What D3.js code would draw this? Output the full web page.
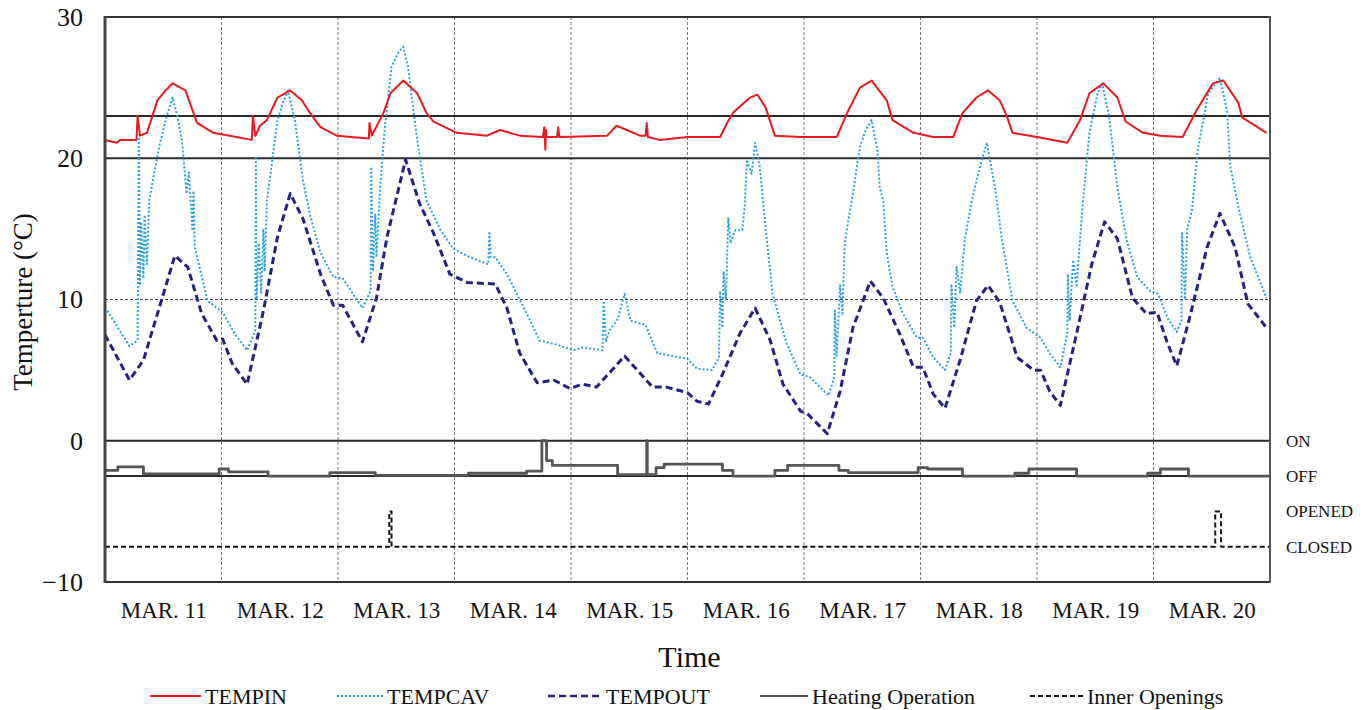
<!DOCTYPE html>
<html><head><meta charset="utf-8">
<script src="https://cdn.jsdelivr.net/npm/d3@7"></script>
<style>
html,body{margin:0;padding:0;background:#fff;}
svg text{font-family:"Liberation Serif","DejaVu Serif",serif;fill:#111;}
</style></head>
<body><svg id="c" width="1372" height="710"></svg>
<script>
// ---- DATA (time in days since MAR. 11 00:00, value in °C) ----
const dayLabels = ["MAR. 11","MAR. 12","MAR. 13","MAR. 14","MAR. 15","MAR. 16","MAR. 17","MAR. 18","MAR. 19","MAR. 20"];
const yTicks = [-10,0,10,20,30];
const stateLabels = [["ON",0],["OFF",-2.5],["OPENED",-5],["CLOSED",-7.5]];
const refLines = [23,20,0,-2.5];

const tempIn = [[0,21.3],[0.10,21.1],[0.13,21.3],[0.27,21.3],[0.28,23.0],[0.30,21.6],[0.36,21.8],[0.45,24.1],[0.52,24.8],[0.58,25.3],[0.69,24.8],[0.76,23.2],[0.79,22.5],[0.93,21.8],[1.07,21.6],[1.26,21.3],[1.27,23.0],[1.29,21.6],[1.33,22.3],[1.39,22.7],[1.48,24.3],[1.59,24.8],[1.69,24.1],[1.76,23.2],[1.85,22.2],[1.99,21.6],[2.265,21.4],[2.27,22.5],[2.29,21.6],[2.39,23.2],[2.45,24.6],[2.56,25.5],[2.68,24.6],[2.76,23.2],[2.82,22.6],[3.02,21.8],[3.28,21.6],[3.39,22.0],[3.56,21.6],[3.76,21.5],[3.77,22.2],[3.78,20.6],[3.785,22.0],[3.79,21.5],[3.88,21.5],[3.89,22.2],[3.90,21.5],[4.31,21.6],[4.39,22.3],[4.48,22.0],[4.59,21.6],[4.64,21.6],[4.65,22.5],[4.66,21.5],[4.76,21.3],[5.00,21.5],[5.28,21.5],[5.34,22.5],[5.39,23.2],[5.48,23.9],[5.54,24.3],[5.60,24.5],[5.67,23.6],[5.75,21.6],[5.97,21.5],[6.28,21.5],[6.37,23.2],[6.48,25.0],[6.58,25.5],[6.71,24.1],[6.76,22.7],[6.94,21.8],[7.11,21.5],[7.28,21.5],[7.36,23.2],[7.48,24.3],[7.58,24.8],[7.68,24.1],[7.74,23.0],[7.79,21.8],[8.00,21.5],[8.26,21.1],[8.37,22.7],[8.45,24.6],[8.57,25.3],[8.69,24.3],[8.76,22.6],[8.91,21.8],[9.06,21.6],[9.25,21.5],[9.37,23.4],[9.51,25.3],[9.60,25.5],[9.73,23.9],[9.76,22.9],[9.97,21.8]];

const tempCav = [[0.02,9.2],[0.21,6.7],[0.28,7.1],[0.29,21.5],[0.30,11.0],[0.31,15.5],[0.33,11.5],[0.34,16.0],[0.36,12.5],[0.38,17.0],[0.41,18.4],[0.47,21.0],[0.53,23.0],[0.58,24.3],[0.62,23.0],[0.66,21.3],[0.70,17.5],[0.72,19.0],[0.75,15.0],[0.76,17.7],[0.77,13.7],[0.82,12.0],[0.88,9.9],[1.01,9.1],[1.12,7.5],[1.22,6.4],[1.29,7.8],[1.295,20.0],[1.30,10.0],[1.32,14.0],[1.34,10.5],[1.36,15.0],[1.37,12.0],[1.39,17.0],[1.43,19.5],[1.48,22.7],[1.53,24.0],[1.57,24.8],[1.63,22.7],[1.70,18.4],[1.76,16.0],[1.85,13.3],[1.96,11.6],[2.04,11.5],[2.21,9.4],[2.28,10.6],[2.285,19.4],[2.30,12.0],[2.32,16.0],[2.33,13.0],[2.36,17.7],[2.40,22.0],[2.46,26.5],[2.52,27.5],[2.56,27.9],[2.60,26.5],[2.68,21.3],[2.76,17.0],[2.88,14.9],[2.99,13.6],[3.13,13.0],[3.29,12.5],[3.30,14.7],[3.31,13.0],[3.35,13.0],[3.45,11.8],[3.62,9.0],[3.73,7.1],[3.88,6.8],[4.02,6.4],[4.10,6.6],[4.27,6.4],[4.28,9.9],[4.30,7.0],[4.33,7.8],[4.40,8.6],[4.46,10.4],[4.51,8.5],[4.64,8.2],[4.74,6.2],[5.00,5.8],[5.08,5.1],[5.21,5.0],[5.27,5.9],[5.28,10.6],[5.30,8.0],[5.31,12.0],[5.33,10.0],[5.35,15.8],[5.37,14.0],[5.41,14.9],[5.47,14.9],[5.49,16.5],[5.51,19.9],[5.55,18.9],[5.58,21.1],[5.62,19.4],[5.67,15.1],[5.73,10.4],[5.85,6.9],[5.97,4.7],[6.05,4.5],[6.21,3.2],[6.26,4.5],[6.265,9.2],[6.28,6.0],[6.31,11.0],[6.33,9.0],[6.35,14.0],[6.37,15.1],[6.43,18.0],[6.48,20.8],[6.53,22.0],[6.58,22.7],[6.63,20.6],[6.65,17.9],[6.68,17.0],[6.71,13.3],[6.76,10.9],[6.85,9.0],[6.97,7.3],[7.02,7.3],[7.11,5.9],[7.21,5.0],[7.26,6.2],[7.265,11.1],[7.29,8.0],[7.31,12.3],[7.34,10.5],[7.38,14.2],[7.44,17.0],[7.51,19.4],[7.57,21.1],[7.64,17.9],[7.70,14.2],[7.79,9.9],[7.91,8.0],[8.03,7.3],[8.11,6.2],[8.20,5.2],[8.26,7.6],[8.265,11.8],[8.28,8.5],[8.31,12.8],[8.34,11.0],[8.39,16.5],[8.45,21.8],[8.52,24.6],[8.56,25.3],[8.62,22.9],[8.69,17.9],[8.77,14.2],[8.86,11.6],[8.97,10.6],[9.04,10.4],[9.12,8.7],[9.20,7.7],[9.24,8.5],[9.245,14.7],[9.27,10.0],[9.29,15.0],[9.33,16.3],[9.38,20.6],[9.47,24.6],[9.57,25.7],[9.63,23.4],[9.66,19.4],[9.73,16.5],[9.83,13.0],[9.97,10.1]];

const tempOut = [[0.0,7.5],[0.21,4.3],[0.33,5.7],[0.60,13.1],[0.71,12.3],[0.83,9.0],[0.96,7.1],[1.01,7.2],[1.09,5.5],[1.22,4.0],[1.36,9.2],[1.48,14.4],[1.59,17.5],[1.70,15.7],[1.85,11.8],[1.96,9.6],[2.04,9.6],[2.21,7.0],[2.33,10.1],[2.42,14.4],[2.58,19.9],[2.70,16.8],[2.82,14.7],[2.96,11.8],[3.11,11.2],[3.35,11.1],[3.45,9.4],[3.56,6.2],[3.71,4.1],[3.85,4.3],[3.99,3.7],[4.10,4.0],[4.22,3.8],[4.46,6.0],[4.70,3.8],[4.82,3.8],[5.00,3.4],[5.08,2.8],[5.18,2.6],[5.30,4.7],[5.45,7.6],[5.58,9.4],[5.71,7.1],[5.82,4.0],[5.97,2.1],[6.03,1.9],[6.20,0.5],[6.31,3.5],[6.42,8.0],[6.57,11.3],[6.68,10.1],[6.82,7.6],[6.94,5.2],[7.02,5.2],[7.11,3.3],[7.21,2.3],[7.34,5.7],[7.48,9.9],[7.58,11.0],[7.68,9.8],[7.83,5.9],[7.97,5.0],[8.03,5.0],[8.11,3.5],[8.20,2.5],[8.34,7.6],[8.47,12.5],[8.58,15.5],[8.69,14.3],[8.82,10.1],[8.94,9.0],[9.03,9.1],[9.12,6.9],[9.20,5.3],[9.31,8.7],[9.46,13.7],[9.57,16.1],[9.70,13.7],[9.81,9.7],[9.97,8.0]];

// Heating operation (ON = 0, OFF = -2.5), step values
const heating = [[0,-2.1],[0.11,-1.85],[0.33,-2.35],[0.98,-2.0],[1.06,-2.2],[1.40,-2.5],[1.93,-2.25],[2.32,-2.45],[3.12,-2.3],[3.62,-2.15],[3.75,0],[3.79,-1.4],[3.84,-1.75],[4.40,-2.4],[4.65,0],[4.655,-2.4],[4.73,-1.9],[4.80,-1.65],[5.30,-2.1],[5.39,-2.5],[5.75,-2.1],[5.86,-1.75],[6.30,-2.1],[6.38,-2.25],[6.98,-1.9],[7.06,-2.0],[7.36,-2.5],[7.81,-2.3],[7.93,-2.0],[8.34,-2.5],[8.95,-2.3],[9.06,-2.0],[9.30,-2.5],[10.0,-2.5]];

// Inner openings (OPENED = -5, CLOSED = -7.5), step values
const openings = [[0,-7.5],[2.44,-5],[2.46,-7.5],[9.53,-5],[9.58,-7.5],[10.0,-7.5]];

const legendItems = [
  {name:"TEMPIN", key:"in"},
  {name:"TEMPCAV", key:"cav"},
  {name:"TEMPOUT", key:"out"},
  {name:"Heating Operation", key:"heat"},
  {name:"Inner Openings", key:"open"}
];

// ---- STYLES ----
const styles = {
  in:  {stroke:"#e8191f", width:2, dash:null},
  cav: {stroke:"#2a9fe0", width:2, dash:"2,2"},
  out: {stroke:"#23237f", width:3, dash:"7,4"},
  heat:{stroke:"#555", width:2.8, dash:null},
  open:{stroke:"#111", width:2, dash:"5,3"}
};

const svg = d3.select("#c");
const L=105, R=1270, T=17, B=582;
const x = d3.scaleLinear().domain([0,10]).range([L,R]);
const y = d3.scaleLinear().domain([-10,30]).range([B,T]);

// vertical grid
svg.append("g").selectAll("line").data(d3.range(1,10)).join("line")
  .attr("x1",d=>x(d)).attr("x2",d=>x(d)).attr("y1",T).attr("y2",B)
  .attr("stroke","#777").attr("stroke-width",1).attr("stroke-dasharray","3,2");

// 10 dotted line
svg.append("line").attr("x1",L).attr("x2",R).attr("y1",y(10)).attr("y2",y(10))
  .attr("stroke","#444").attr("stroke-width",1).attr("stroke-dasharray","3,2");

// reference lines
svg.append("g").selectAll("line").data(refLines).join("line")
  .attr("x1",L).attr("x2",R).attr("y1",d=>y(d)).attr("y2",d=>y(d))
  .attr("stroke","#2a2a2a").attr("stroke-width",2);

// clip
svg.append("clipPath").attr("id","clip").append("rect")
  .attr("x",L).attr("y",T).attr("width",R-L).attr("height",B-T);

const line = d3.line().x(d=>x(d[0])).y(d=>y(d[1]));
const step = d3.line().x(d=>x(d[0])).y(d=>y(d[1])).curve(d3.curveStepAfter);
const g = svg.append("g").attr("clip-path","url(#clip)");
function draw(data, st, gen){
  g.append("path").datum(data).attr("d",gen).attr("fill","none")
   .attr("stroke",st.stroke).attr("stroke-width",st.width)
   .attr("stroke-dasharray",st.dash).attr("stroke-linejoin","round");
}
draw(heating, styles.heat, step);
draw(openings, styles.open, step);
draw(tempOut, styles.out, line);
draw(tempCav, styles.cav, line);
draw(tempIn, styles.in, line);

// frame
svg.append("line").attr("x1",L).attr("x2",R).attr("y1",T).attr("y2",T).attr("stroke","#333").attr("stroke-width",2);
svg.append("line").attr("x1",L).attr("x2",R).attr("y1",B).attr("y2",B).attr("stroke","#333").attr("stroke-width",2);
svg.append("line").attr("x1",L).attr("x2",L).attr("y1",T-1).attr("y2",B+1).attr("stroke","#444").attr("stroke-width",3);
svg.append("line").attr("x1",R).attr("x2",R).attr("y1",T-1).attr("y2",B+1).attr("stroke","#555").attr("stroke-width",2);

// y axis labels
const ya = svg.append("g").attr("transform",`translate(${L-22},0)`)
  .call(d3.axisLeft(y).tickValues(yTicks).tickSize(0).tickPadding(0));
ya.select(".domain").remove();
ya.selectAll("text").attr("font-size",26).attr("font-family","Liberation Serif").attr("fill","#111").attr("dy","0.32em");

// x axis labels
const xa = svg.append("g").attr("transform",`translate(0,${B+20})`)
  .call(d3.axisBottom(x).tickValues(d3.range(10).map(i=>i+0.5)).tickFormat((d,i)=>dayLabels[i]).tickSize(0).tickPadding(0));
xa.select(".domain").remove();
xa.selectAll("text").attr("font-size",23).attr("font-family","Liberation Serif").attr("fill","#111").attr("dy","0.71em");

// state labels on right
svg.append("g").selectAll("text").data(stateLabels).join("text")
  .attr("x",R+16).attr("y",d=>y(d[1])).attr("dy","0.35em")
  .attr("font-size",17).attr("fill","#1a1a1a").text(d=>d[0]);

// axis titles
svg.append("text").attr("x",(L+R)/2+2).attr("y",667).attr("text-anchor","middle")
  .attr("font-size",30).text("Time");
svg.append("text").attr("transform",`translate(32,302) rotate(-90)`).attr("text-anchor","middle")
  .attr("font-size",27).text("Temperture (°C)");

// legend
const legX = [150, 337, 548, 760, 1030];
const legLen = [51, 46, 54, 48, 53];
const lg = svg.append("g");
legendItems.forEach((it,i)=>{
  const st = styles[it.key];
  lg.append("line").attr("x1",legX[i]).attr("x2",legX[i]+legLen[i]).attr("y1",696).attr("y2",696)
    .attr("stroke",st.stroke).attr("stroke-width",it.key==="out"?2.5:2).attr("stroke-dasharray",st.dash);
  lg.append("text").attr("x",legX[i]+legLen[i]+4).attr("y",696).attr("dy","0.35em")
    .attr("font-size",22).text(it.name);
});
</script></body></html>
